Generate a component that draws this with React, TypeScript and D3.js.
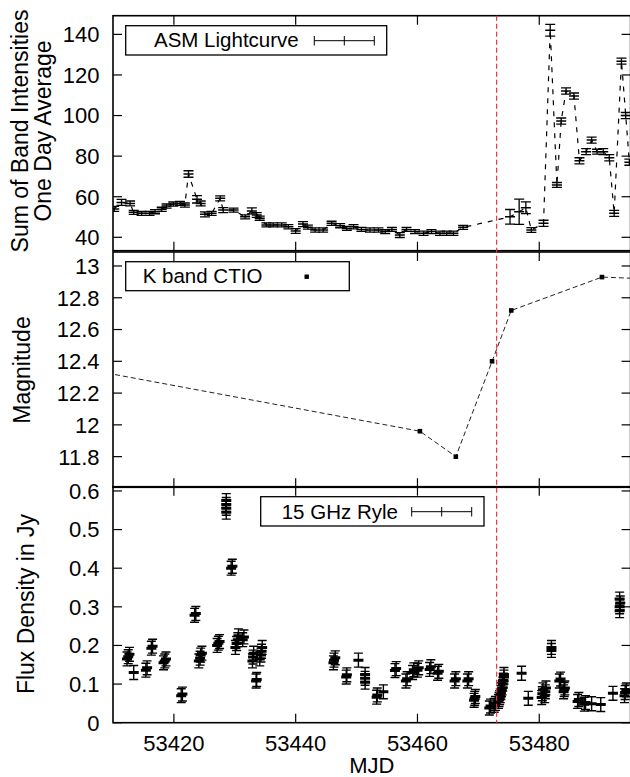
import React from "react";
import * as d3 from "d3";

// ---------- DATA ----------
const asmMjd = [53410.2, 53411.4, 53412.8, 53413.4, 53414.7, 53416.0, 53416.9, 53418.0, 53418.8, 53419.9, 53421.0, 53421.8, 53422.4, 53423.8, 53424.4, 53425.1, 53426.2, 53427.6, 53428.1, 53429.8, 53431.7, 53432.8, 53433.6, 53434.1, 53435.2, 53436.3, 53437.7, 53438.8, 53440.0, 53441.2, 53442.0, 53443.2, 53444.5, 53445.9, 53447.3, 53448.4, 53449.5, 53450.8, 53452.2, 53453.6, 53454.7, 53455.8, 53457.1, 53458.2, 53459.6, 53461.0, 53462.3, 53463.7, 53464.8, 53465.9, 53467.5, 53475.2, 53476.7, 53477.8, 53478.7, 53480.7, 53481.8, 53482.9, 53483.6, 53484.4, 53485.7, 53486.6, 53487.7, 53488.6, 53489.5, 53490.5, 53491.5, 53492.3, 53493.5, 53494.2, 53494.8];
const asmRate = [54.0, 57.2, 56.7, 52.3, 51.8, 51.8, 52.6, 53.8, 55.4, 56.4, 56.7, 55.9, 71.2, 58.7, 56.7, 51.3, 51.8, 59.2, 53.4, 53.4, 50.1, 53.0, 51.0, 49.4, 46.1, 46.1, 46.1, 45.2, 43.1, 46.5, 45.0, 43.6, 43.6, 46.9, 45.7, 44.4, 45.2, 43.9, 43.6, 43.6, 42.8, 43.9, 41.1, 43.9, 42.8, 42.0, 42.8, 42.0, 42.0, 42.0, 44.9, 50.1, 52.6, 54.6, 43.6, 46.9, 142.0, 65.8, 97.3, 112.1, 109.6, 77.7, 82.2, 87.9, 82.2, 82.2, 79.2, 51.8, 126.8, 100.0, 77.0];
const asmErr = [1.2, 1.5, 1.2, 1.0, 1.0, 1.0, 1.0, 1.0, 1.0, 1.0, 1.0, 1.0, 1.6, 1.8, 1.2, 1.2, 1.0, 1.2, 1.2, 1.0, 1.0, 1.5, 1.2, 1.0, 1.0, 1.0, 1.0, 1.0, 1.2, 1.2, 1.0, 1.0, 1.0, 1.0, 1.0, 1.0, 1.0, 1.0, 1.0, 1.0, 1.0, 1.0, 1.2, 1.0, 1.0, 1.0, 1.0, 1.0, 1.0, 1.0, 1.0, 3.6, 6.2, 2.9, 1.2, 1.5, 2.9, 1.2, 1.5, 1.5, 1.5, 1.5, 1.5, 1.5, 1.2, 1.5, 1.5, 1.5, 1.5, 1.5, 1.5];

const kMjd = [53400.0, 53460.4, 53466.3, 53472.25, 53475.4, 53490.3, 53497.0];
const kMag = [12.39, 11.96, 11.80, 12.40, 12.72, 12.93, 12.92];

const radioMjd = [
  53412.3, 53412.5, 53412.7, 53413.4, 53415.4, 53415.6, 53416.3, 53416.5,
  53418.3, 53418.5, 53418.7, 53421.2, 53421.4, 53423.4, 53423.6,
  53424.1, 53424.3, 53424.4, 53424.6, 53427.1, 53427.3, 53427.5,
  53428.6, 53428.6, 53428.6, 53428.6, 53429.4, 53429.6,
  53430.1, 53430.3, 53430.5, 53430.6, 53431.3, 53431.5,
  53432.9, 53433.0, 53433.1, 53433.5, 53433.6,
  53434.1, 53434.3, 53434.4, 53434.5,
  53446.2, 53446.3, 53446.5, 53448.3, 53448.4, 53450.3,
  53451.4, 53451.4, 53451.4, 53453.3, 53453.4, 53454.4,
  53456.3, 53456.5, 53458.1, 53458.3, 53459.2, 53459.4, 53460.0, 53460.2,
  53462.0, 53462.2, 53463.3, 53463.5, 53466.1, 53466.3, 53468.2, 53468.4,
  53469.3, 53469.4, 53469.5, 53471.8, 53472.0, 53472.6, 53472.8,
  53473.3, 53473.4, 53473.5, 53473.6, 53473.7, 53473.8,
  53473.9, 53474.0, 53474.1, 53474.1, 53474.2, 53474.2,
  53477.1, 53478.2, 53480.4, 53480.5, 53480.6, 53480.9, 53481.0, 53481.1,
  53482.0, 53482.0, 53483.3, 53483.5, 53484.0, 53484.1, 53484.2,
  53486.3, 53486.5, 53487.4, 53487.6, 53488.6, 53490.1, 53492.1,
  53493.2, 53493.2, 53493.3, 53493.2, 53494.0, 53494.1, 53494.3
];
const radioFlux = [
  0.165, 0.171, 0.177, 0.130, 0.136, 0.142, 0.193, 0.198,
  0.155, 0.160, 0.165, 0.070, 0.074, 0.278, 0.283,
  0.160, 0.167, 0.175, 0.180, 0.200, 0.206, 0.210,
  0.545, 0.555, 0.565, 0.575, 0.400, 0.405,
  0.195, 0.205, 0.215, 0.225, 0.215, 0.222,
  0.160, 0.170, 0.180, 0.108, 0.112,
  0.165, 0.175, 0.185, 0.195,
  0.155, 0.162, 0.168, 0.118, 0.124, 0.162,
  0.105, 0.115, 0.125, 0.066, 0.072, 0.080,
  0.135, 0.140, 0.108, 0.114, 0.130, 0.137, 0.136, 0.142,
  0.138, 0.145, 0.128, 0.133, 0.108, 0.114, 0.108, 0.114,
  0.058, 0.063, 0.068, 0.038, 0.043, 0.045, 0.050,
  0.055, 0.060, 0.065, 0.070, 0.078, 0.085,
  0.090, 0.100, 0.108, 0.110, 0.118, 0.125,
  0.128, 0.063, 0.065, 0.075, 0.085, 0.070, 0.080, 0.090,
  0.187, 0.195, 0.108, 0.113, 0.080, 0.086, 0.090,
  0.055, 0.060, 0.048, 0.052, 0.049, 0.047, 0.076,
  0.290, 0.300, 0.310, 0.320, 0.070, 0.078, 0.085
];

const xTicks = [53420, 53440, 53460, 53480];
const y1Ticks = [40, 60, 80, 100, 120, 140];
const y2Ticks = [11.8, 12, 12.2, 12.4, 12.6, 12.8, 13];
const y3Ticks = [0, 0.1, 0.2, 0.3, 0.4, 0.5, 0.6];
const eventMjd = 53473;

// ---------- LAYOUT ----------
const W = 630, H = 777;
const L = 113, R = 630.6;
const FONT = "'Liberation Sans', Arial, Helvetica, sans-serif";

const x = d3.scaleLinear().domain([53410, 53495]).range([L, R]);
const p1 = { top: 15.7, bottom: 250.7 };
const p2 = { top: 252, bottom: 487.3 };
const p3 = { top: 486.7, bottom: 722.7 };
const y1 = d3.scaleLinear().domain([33.4, 149.2]).range([p1.bottom, p1.top]);
const y2 = d3.scaleLinear().domain([11.607, 13.088]).range([p2.bottom, p2.top]);
const y3 = d3.scaleLinear().domain([0, 0.611]).range([p3.bottom, p3.top]);

const TICK = 9;

function Frame({ p, y, ticks, fmt }: any) {
  return (
    <g>
      <rect x={L} y={p.top} width={R - L} height={p.bottom - p.top} fill="none" stroke="#000" strokeWidth={1.6} />
      {xTicks.map((t) => (
        <g key={"x" + t}>
          <line x1={x(t)} x2={x(t)} y1={p.bottom} y2={p.bottom - TICK} stroke="#000" strokeWidth={1.2} />
          <line x1={x(t)} x2={x(t)} y1={p.top} y2={p.top + TICK} stroke="#000" strokeWidth={1.2} />
        </g>
      ))}
      {ticks.map((t: number) => (
        <g key={"y" + t}>
          <line x1={L} x2={L + TICK} y1={y(t)} y2={y(t)} stroke="#000" strokeWidth={1.2} />
          <line x1={R} x2={R - TICK} y1={y(t)} y2={y(t)} stroke="#000" strokeWidth={1.2} />
          <text x={99.5} y={y(t)} dy="0.36em" textAnchor="end" fontSize={22} fontFamily={FONT}>{fmt(t)}</text>
        </g>
      ))}
    </g>
  );
}

function ErrCross({ cx, cy, hx, hy, cap, sw, hw }: any) {
  return (
    <g stroke="#000" strokeWidth={sw}>
      <line x1={cx - hx} x2={cx + hx} y1={cy} y2={cy} strokeWidth={hw} />
      <line x1={cx} x2={cx} y1={cy - hy} y2={cy + hy} />
      <line x1={cx - cap} x2={cx + cap} y1={cy - hy} y2={cy - hy} />
      <line x1={cx - cap} x2={cx + cap} y1={cy + hy} y2={cy + hy} />
    </g>
  );
}

export default function App() {
  const asmLine = d3.line<number>().x((_, i) => x(asmMjd[i])).y((d) => y1(d))(asmRate) || "";
  const kLine = d3.line<number>().x((_, i) => x(kMjd[i])).y((d) => y2(d))(kMag) || "";
  const fmt1 = (v: number) => String(v);
  const fmt2 = (v: number) => d3.format("~g")(v);

  return (
    <svg width={W} height={H} style={{ position: "absolute", left: 0, top: 0, background: "#fff" }} fontFamily={FONT}>
      <defs>
        <clipPath id="c1"><rect x={L} y={p1.top} width={R - L} height={p1.bottom - p1.top} /></clipPath>
        <clipPath id="c2"><rect x={L} y={p2.top} width={R - L} height={p2.bottom - p2.top} /></clipPath>
        <clipPath id="c3"><rect x={L} y={p3.top} width={R - L} height={p3.bottom - p3.top} /></clipPath>
      </defs>
      <rect width={W} height={H} fill="#fff" />

      {/* Panel 1: ASM */}
      <g clipPath="url(#c1)">
        <path d={asmLine} fill="none" stroke="#000" strokeWidth={1.2} strokeDasharray="5,6" />
        {asmMjd.map((m, i) => (
          <ErrCross key={i} cx={x(m)} cy={y1(asmRate[i])} hx={5} hy={Math.abs(y1(asmRate[i] + asmErr[i]) - y1(asmRate[i]))} cap={5} sw={1.3} hw={1.5} />
        ))}
      </g>

      {/* Panel 2: K band */}
      <g clipPath="url(#c2)">
        <path d={kLine} fill="none" stroke="#222" strokeWidth={1} strokeDasharray="5,3" />
        {kMjd.map((m, i) => (
          <rect key={i} x={x(m) - 2.3} y={y2(kMag[i]) - 2.3} width={4.6} height={4.6} fill="#000" />
        ))}
      </g>

      {/* Panel 3: Radio */}
      <g clipPath="url(#c3)">
        {radioMjd.map((m, i) => (
          <ErrCross key={i} cx={x(m)} cy={y3(radioFlux[i])} hx={5} hy={Math.abs(y3(radioFlux[i] + 0.018) - y3(radioFlux[i]))} cap={4.5} sw={1.4} hw={3} />
        ))}
      </g>

      <Frame p={p1} y={y1} ticks={y1Ticks} fmt={fmt1} />
      <Frame p={p2} y={y2} ticks={y2Ticks} fmt={fmt2} />
      <Frame p={p3} y={y3} ticks={y3Ticks} fmt={fmt2} />

      {/* x tick labels */}
      {xTicks.map((t) => (
        <text key={t} x={x(t)} y={751} textAnchor="middle" fontSize={22}>{t}</text>
      ))}
      <text x={(L + R) / 2} y={773} textAnchor="middle" fontSize={22}>MJD</text>

      {/* y labels */}
      <text transform={`translate(27.5,131) rotate(-90)`} textAnchor="middle" fontSize={23}>Sum of Band Intensities</text>
      <text transform={`translate(51,131) rotate(-90)`} textAnchor="middle" fontSize={23}>One Day Average</text>
      <text transform={`translate(29.5,370) rotate(-90)`} textAnchor="middle" fontSize={23}>Magnitude</text>
      <text transform={`translate(34,604) rotate(-90)`} textAnchor="middle" fontSize={23}>Flux Density in Jy</text>

      {/* event line */}
      <line x1={x(eventMjd)} x2={x(eventMjd)} y1={p1.top} y2={p3.bottom} stroke="#e8383d" strokeWidth={1.2} strokeDasharray="5,3" />

      {/* legends */}
      <g>
        <rect x={125.7} y={25.7} width={261} height={29.3} fill="#fff" stroke="#000" strokeWidth={1.3} />
        <text x={154} y={46.7} fontSize={20.5}>ASM Lightcurve</text>
        <g stroke="#000" strokeWidth={1}>
          <line x1={314.3} x2={374.3} y1={40.7} y2={40.7} />
          <line x1={314.3} x2={314.3} y1={36} y2={45.5} />
          <line x1={344.3} x2={344.3} y1={36} y2={45.5} />
          <line x1={374.3} x2={374.3} y1={36} y2={45.5} />
        </g>
      </g>
      <g>
        <rect x={125.7} y={261.7} width={223.6} height={29} fill="#fff" stroke="#000" strokeWidth={1.3} />
        <text x={142.7} y={283.3} fontSize={20.5}>K band CTIO</text>
        <rect x={304.5} y={274.5} width={4.4} height={4.4} fill="#000" />
      </g>
      <g>
        <rect x={260.7} y={496.7} width={223.3} height={29.3} fill="#fff" stroke="#000" strokeWidth={1.3} />
        <text x={281.7} y={519} fontSize={20.5}>15 GHz Ryle</text>
        <g stroke="#000" strokeWidth={1}>
          <line x1={411.7} x2={471.7} y1={511.7} y2={511.7} />
          <line x1={411.7} x2={411.7} y1={507} y2={516.5} />
          <line x1={441.7} x2={441.7} y1={507} y2={516.5} />
          <line x1={471.7} x2={471.7} y1={507} y2={516.5} />
        </g>
      </g>
    </svg>
  );
}
